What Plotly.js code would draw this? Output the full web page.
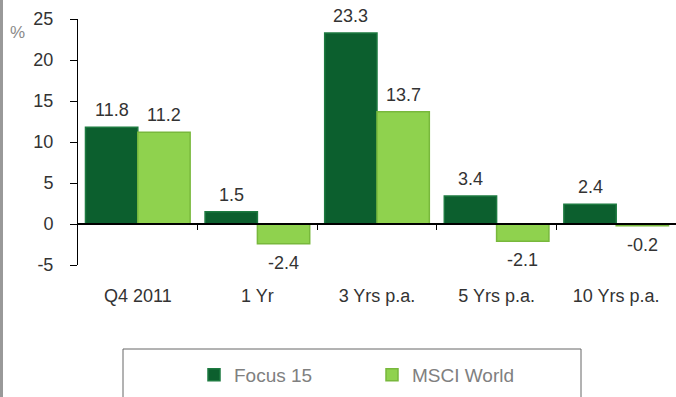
<!DOCTYPE html>
<html>
<head>
<meta charset="utf-8">
<script src="https://cdn.plot.ly/plotly-3.0.1.min.js"></script>
<style>html,body{margin:0;padding:0;background:#fff;}#chart{width:676px;height:397px;}</style>
</head>
<body>
<div id="chart"></div>
<script>
const categories = ["Q4 2011", "1 Yr", "3 Yrs p.a.", "5 Yrs p.a.", "10 Yrs p.a."];
const focus15 = [11.8, 1.5, 23.3, 3.4, 2.4];
const msciWorld = [11.2, -2.4, 13.7, -2.1, -0.2];
const seriesNames = ["Focus 15", "MSCI World"];
const yTicks = [-5, 0, 5, 10, 15, 20, 25];
const yTickText = ["-5", "0", "5", "10", "15", "20", "25"];

const FONT = "Liberation Sans, Arial, sans-serif";
const W = 676, H = 397;
const M = {l: 78, r: 0, t: 19, b: 132};
const plotW = W - M.l - M.r, plotH = H - M.t - M.b;
const bargap = 0.125;
const catW = plotW / categories.length;
const barW = catW * (1 - bargap) / 2;

const traces = [
  {type: "bar", name: seriesNames[0], x: categories, y: focus15,
   marker: {color: "#0c5f2e", line: {color: "#1d7a40", width: 1.5}}},
  {type: "bar", name: seriesNames[1], x: categories, y: msciWorld,
   marker: {color: "#8fd24e", line: {color: "#78b83c", width: 1.5}}},
  {type: "scatter", x: [], y: [], xaxis: "x2", showlegend: false, hoverinfo: "skip"}
];

const annotations = [];
[focus15, msciWorld].forEach((vals, si) => {
  vals.forEach((v, i) => {
    annotations.push({
      x: categories[i], y: v, xref: "x", yref: "y",
      text: v.toFixed(1), showarrow: false,
      xshift: (si === 0 ? -1 : 1) * barW / 2,
      yanchor: v >= 0 ? "bottom" : "top",
      yshift: v >= 0 ? 5 : -7,
      font: {family: FONT, size: 18, color: "#333333"}
    });
  });
});
annotations.push({
  xref: "paper", yref: "paper", x: (17 - M.l) / plotW, y: (M.t + plotH - 33) / plotH,
  text: "%", showarrow: false, xanchor: "center", yanchor: "middle",
  font: {family: FONT, size: 17, color: "#8a8a8a"}
});

const boundaries = categories.slice(1).map((c, i) => i + 0.5);

const layout = {
  width: W, height: H,
  margin: M,
  paper_bgcolor: "#ffffff", plot_bgcolor: "rgba(0,0,0,0)",
  barmode: "group", bargap: bargap, bargroupgap: 0,
  font: {family: FONT, size: 18, color: "#333333"},
  showlegend: true,
  legend: {orientation: "h", x: (194 - M.l) / plotW, xanchor: "left",
    y: (M.t + plotH - 375) / plotH, yanchor: "middle",
    font: {family: FONT, size: 19, color: "#808080"},
    entrywidth: 133, entrywidthmode: "pixels", bgcolor: "rgba(0,0,0,0)"},
  xaxis: {type: "category", showline: false, ticks: "", showgrid: false, zeroline: false,
    tickfont: {family: FONT, size: 18, color: "#333333"}, ticklabelstandoff: 18},
  xaxis2: {overlaying: "x", anchor: "free", position: (0 - yTicks[0]) / (yTicks[yTicks.length - 1] - yTicks[0]),
    range: [-0.5, categories.length - 0.5], tickvals: boundaries, ticks: "outside", ticklen: 5,
    tickcolor: "#000", showline: true, linecolor: "#000", linewidth: 2,
    showticklabels: false, showgrid: false, zeroline: false},
  yaxis: {range: [yTicks[0], yTicks[yTicks.length - 1]], tickvals: yTicks, ticktext: yTickText,
    ticks: "outside", ticklen: 7,
    tickcolor: "#000", showline: true, linecolor: "#000", linewidth: 1, showgrid: false, zeroline: false,
    tickfont: {family: FONT, size: 18, color: "#333333"}, ticklabelstandoff: 13},
  annotations: annotations,
  shapes: [
    {type: "rect", xref: "paper", yref: "paper",
     x0: (123 - M.l) / plotW, x1: (581 - M.l) / plotW,
     y0: (M.t + plotH - 349) / plotH, y1: (M.t + plotH - 410) / plotH,
     line: {color: "#666666", width: 1}, fillcolor: "rgba(0,0,0,0)"},
    {type: "line", xref: "paper", yref: "paper",
     x0: (1.5 - M.l) / plotW, x1: (1.5 - M.l) / plotW,
     y0: (M.t + plotH - 410) / plotH, y1: (M.t + plotH + 10) / plotH,
     line: {color: "#999999", width: 3}}
  ]
};

Plotly.newPlot("chart", traces, layout, {displayModeBar: false, staticPlot: true});
</script>
</body>
</html>
